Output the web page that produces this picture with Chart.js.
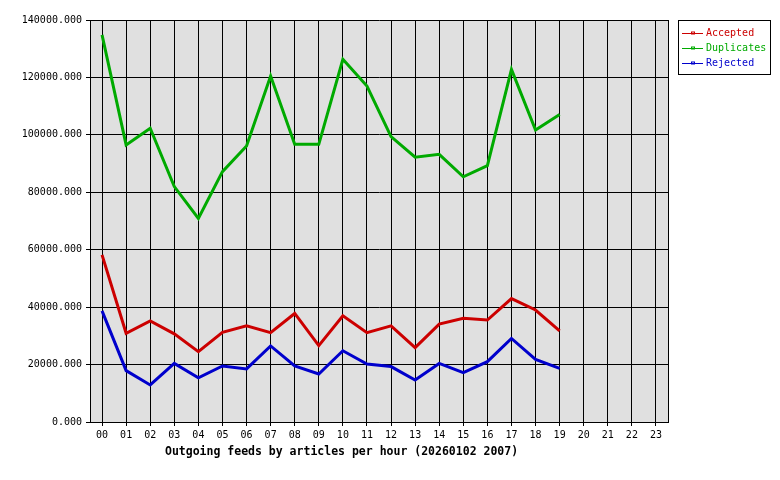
<!DOCTYPE html>
<html><head><meta charset="utf-8">
<script src="https://cdn.jsdelivr.net/npm/chart.js@4/dist/chart.umd.min.js"></script>
<style>html,body{margin:0;padding:0;background:#fff}#wrap{width:780px;height:480px}</style>
</head><body><div id="wrap"><canvas id="c" width="780" height="480"></canvas></div>
<script>
const hours = ['00','01','02','03','04','05','06','07','08','09','10','11','12','13','14','15','16','17','18','19','20','21','22','23'];
const accepted   = [58200, 30900, 35200, 30700, 24500, 31200, 33500, 31100, 37800, 26600, 37000, 31100, 33500, 25900, 34100, 36100, 35500, 43000, 39000, 31700, null, null, null, null];
const duplicates = [134800, 96500, 102300, 82000, 70900, 87200, 96100, 120500, 96700, 96700, 126300, 117000, 99400, 92200, 93200, 85400, 89300, 122800, 101700, 107100, null, null, null, null];
const rejected   = [38700, 17900, 12900, 20400, 15400, 19500, 18500, 26500, 19500, 16700, 24800, 20200, 19300, 14600, 20400, 17200, 21000, 29100, 21800, 18700, null, null, null, null];
const seriesNames = ['Accepted', 'Duplicates', 'Rejected'];
const seriesColors = ['#cc0000', '#00aa00', '#0000cc'];
const titleText = 'Outgoing feeds by articles per hour (20260102 2007)';
const yTicks = [0, 20000, 40000, 60000, 80000, 100000, 120000, 140000];

const MONO = '"DejaVu Sans Mono", "Liberation Mono", monospace';

const bgPlugin = {
  id: 'bg',
  beforeDraw(chart) {
    const {ctx, chartArea: a} = chart;
    ctx.save();
    ctx.fillStyle = '#ffffff';
    ctx.fillRect(0, 0, chart.width, chart.height);
    ctx.fillStyle = '#e0e0e0';
    ctx.fillRect(a.left, a.top, a.right - a.left, a.bottom - a.top);
    ctx.restore();
  }
};

const legendPlugin = {
  id: 'boxLegend',
  afterDraw(chart) {
    const ctx = chart.ctx;
    const bx = 678.5, by = 20.5, bw = 92, bh = 54;
    ctx.save();
    ctx.fillStyle = '#ffffff';
    ctx.fillRect(bx, by, bw, bh);
    ctx.strokeStyle = '#000';
    ctx.lineWidth = 1;
    ctx.strokeRect(bx, by, bw, bh);
    ctx.font = '10px ' + MONO;
    ctx.textBaseline = 'middle';
    chart.data.datasets.forEach((ds, i) => {
      const y = 33.5 + i * 15;
      ctx.strokeStyle = ds.borderColor;
      ctx.beginPath();
      ctx.moveTo(682, y);
      ctx.lineTo(703, y);
      ctx.stroke();
      ctx.strokeRect(691.5, y - 1.5, 3, 2);
      ctx.fillStyle = ds.borderColor;
      ctx.fillText(ds.label, 706, y);
    });
    ctx.restore();
  }
};

const titlePlugin = {
  id: 'bottomTitle',
  afterDraw(chart) {
    const ctx = chart.ctx;
    ctx.save();
    ctx.font = 'bold 11.5px ' + MONO;
    ctx.fillStyle = '#000';
    ctx.textBaseline = 'middle';
    ctx.textAlign = 'left';
    ctx.fillText(titleText, 165, 452);
    ctx.restore();
  }
};

new Chart(document.getElementById('c'), {
  type: 'line',
  data: {
    labels: hours,
    datasets: [accepted, duplicates, rejected].map((d, i) => ({
      label: seriesNames[i],
      data: d,
      borderColor: seriesColors[i],
      backgroundColor: seriesColors[i],
      borderWidth: 3,
      pointRadius: 0,
      tension: 0,
      fill: false
    }))
  },
  options: {
    responsive: false,
    animation: false,
    devicePixelRatio: 1,
    layout: { padding: { top: 20, right: 112, left: 0, bottom: 0 } },
    plugins: { legend: { display: false }, tooltip: { enabled: false } },
    scales: {
      x: {
        offset: true,
        grid: { offset: false, color: '#000', lineWidth: 1, tickLength: 4, drawOnChartArea: true },
        border: { display: true, color: '#000', width: 1 },
        ticks: { color: '#000', font: { family: MONO, size: 10 }, padding: 3, maxRotation: 0, autoSkip: false },
        afterFit(s) { s.height = 58; }
      },
      y: {
        min: 0, max: 140000,
        afterBuildTicks(s) { s.ticks = yTicks.map(v => ({ value: v })); },
        grid: { color: '#000', lineWidth: 1, tickLength: 4 },
        border: { display: true, color: '#000', width: 1 },
        ticks: { color: '#000', font: { family: MONO, size: 10 }, padding: 4, callback: v => Number(v).toFixed(3) },
        afterFit(s) { s.width = 90; }
      },
      y2: {
        position: 'right',
        min: 0, max: 140000,
        grid: { display: false },
        border: { display: true, color: '#000', width: 1 },
        ticks: { display: false },
        afterFit(s) { s.width = 0; }
      }
    }
  },
  plugins: [bgPlugin, legendPlugin, titlePlugin]
});
</script>
</body></html>
